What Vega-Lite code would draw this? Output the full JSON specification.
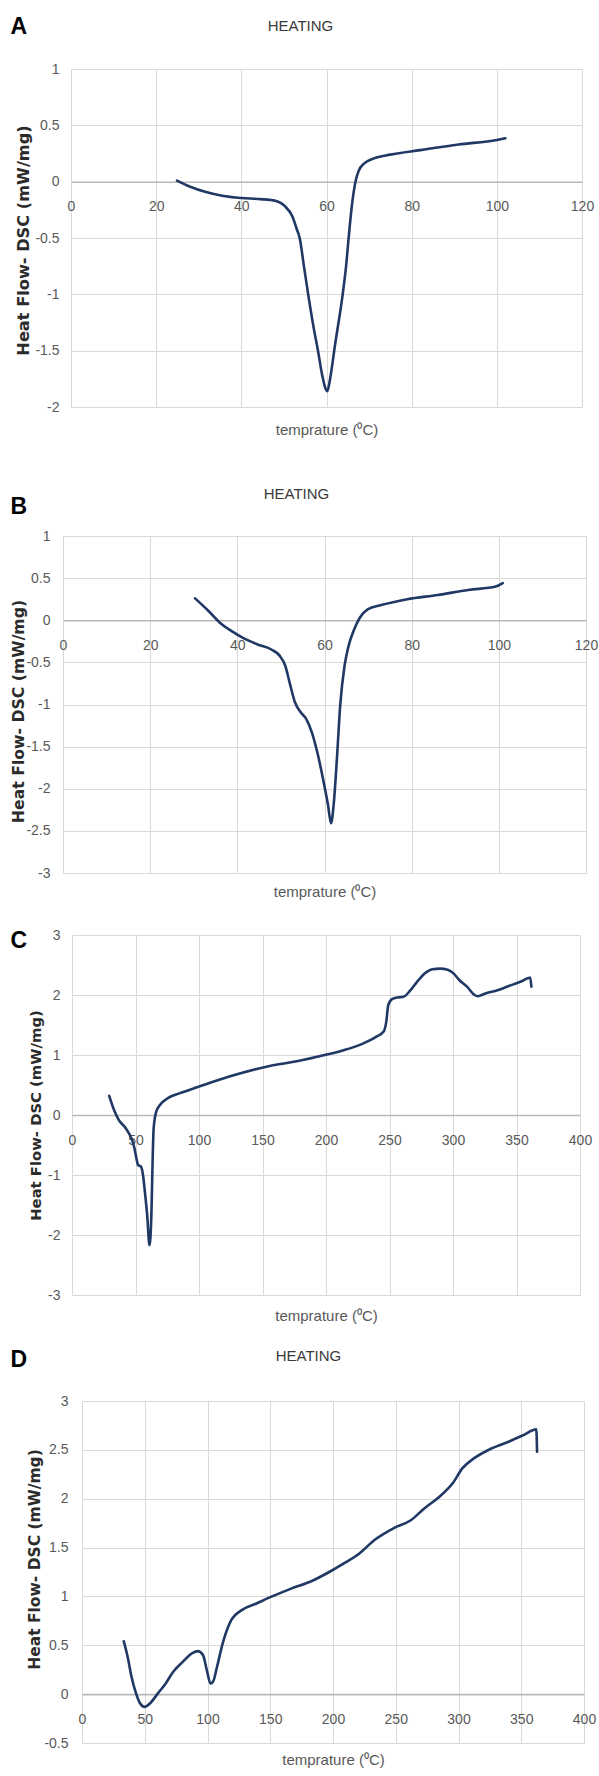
{
  "$schema": "https://vega.github.io/schema/vega-lite/v6.json",
  "padding": {"left": 0, "top": 15, "right": 0, "bottom": 0},
  "background": "white",
  "config": {
    "view": {"stroke": null},
    "axis": {
      "labelFont": "Liberation Sans",
      "labelFontSize": 14,
      "labelColor": "#595959",
      "ticks": false,
      "tickSize": 0,
      "domain": false,
      "gridColor": "#d9d9d9",
      "gridWidth": 1,
      "labelFlush": false,
      "labelOverlap": false,
      "titleFont": "Liberation Sans",
      "titleFontSize": 15,
      "titleColor": "#595959",
      "titleFontWeight": "normal"
    },
    "axisX": {"labelPadding": 18},
    "axisY": {"labelPadding": 12}
  },
  "datasets": {
    "a": [
      {"t": 24.9, "hf": 0.01}, {"t": 28, "hf": -0.045}, {"t": 31.5, "hf": -0.09}, {"t": 35.5, "hf": -0.125},
      {"t": 40, "hf": -0.145}, {"t": 44.5, "hf": -0.155}, {"t": 48, "hf": -0.17}, {"t": 50.3, "hf": -0.22},
      {"t": 52, "hf": -0.31}, {"t": 53, "hf": -0.42}, {"t": 53.7, "hf": -0.5}, {"t": 54.7, "hf": -0.75},
      {"t": 55.7, "hf": -1.0}, {"t": 57, "hf": -1.3}, {"t": 58, "hf": -1.5}, {"t": 59, "hf": -1.72},
      {"t": 59.8, "hf": -1.84}, {"t": 60.2, "hf": -1.86}, {"t": 60.8, "hf": -1.76}, {"t": 62, "hf": -1.45},
      {"t": 63.8, "hf": -1.0}, {"t": 64.6, "hf": -0.75}, {"t": 65.2, "hf": -0.5}, {"t": 66, "hf": -0.2},
      {"t": 66.8, "hf": 0.0}, {"t": 67.6, "hf": 0.1}, {"t": 68.8, "hf": 0.16}, {"t": 71, "hf": 0.205},
      {"t": 75, "hf": 0.24}, {"t": 82, "hf": 0.28}, {"t": 91, "hf": 0.33}, {"t": 100, "hf": 0.37},
      {"t": 102, "hf": 0.385}
    ],
    "b": [
      {"t": 30.3, "hf": 0.26}, {"t": 33.4, "hf": 0.11}, {"t": 36, "hf": -0.03}, {"t": 38.7, "hf": -0.13},
      {"t": 41.3, "hf": -0.21}, {"t": 44.8, "hf": -0.29}, {"t": 47.9, "hf": -0.35}, {"t": 49.7, "hf": -0.42},
      {"t": 51, "hf": -0.54}, {"t": 52, "hf": -0.74}, {"t": 53.2, "hf": -0.97}, {"t": 54.5, "hf": -1.09},
      {"t": 55.8, "hf": -1.17}, {"t": 57.1, "hf": -1.33}, {"t": 58.5, "hf": -1.6}, {"t": 59.8, "hf": -1.92},
      {"t": 60.8, "hf": -2.19}, {"t": 61.5, "hf": -2.41}, {"t": 62.1, "hf": -2.19}, {"t": 62.9, "hf": -1.6},
      {"t": 63.6, "hf": -1.01}, {"t": 64.6, "hf": -0.54}, {"t": 65.5, "hf": -0.31}, {"t": 66.8, "hf": -0.11},
      {"t": 68.1, "hf": 0.03}, {"t": 69.9, "hf": 0.13}, {"t": 73, "hf": 0.18}, {"t": 79, "hf": 0.25},
      {"t": 86, "hf": 0.3}, {"t": 93, "hf": 0.36}, {"t": 99.3, "hf": 0.4}, {"t": 100.9, "hf": 0.44}
    ],
    "c": [
      {"t": 29.3, "hf": 0.32}, {"t": 33.2, "hf": 0.08}, {"t": 36.8, "hf": -0.08}, {"t": 42.3, "hf": -0.22},
      {"t": 46.8, "hf": -0.39}, {"t": 48.9, "hf": -0.53}, {"t": 50.7, "hf": -0.72}, {"t": 51.9, "hf": -0.83},
      {"t": 54.3, "hf": -0.86}, {"t": 55.9, "hf": -1.0}, {"t": 57.4, "hf": -1.28}, {"t": 59.2, "hf": -1.67},
      {"t": 61, "hf": -2.17}, {"t": 62.5, "hf": -1.67}, {"t": 63.4, "hf": -0.83}, {"t": 64.3, "hf": -0.22},
      {"t": 66.4, "hf": 0.06}, {"t": 69.4, "hf": 0.17}, {"t": 75.5, "hf": 0.28}, {"t": 84.5, "hf": 0.36},
      {"t": 99.6, "hf": 0.47}, {"t": 123.8, "hf": 0.64}, {"t": 154, "hf": 0.81}, {"t": 178, "hf": 0.9},
      {"t": 199, "hf": 1.0}, {"t": 214, "hf": 1.08}, {"t": 229, "hf": 1.19}, {"t": 240, "hf": 1.31},
      {"t": 245.4, "hf": 1.39}, {"t": 247.5, "hf": 1.56}, {"t": 249, "hf": 1.83}, {"t": 252, "hf": 1.93},
      {"t": 256.6, "hf": 1.96}, {"t": 261, "hf": 1.97}, {"t": 265.7, "hf": 2.06}, {"t": 271.7, "hf": 2.22},
      {"t": 277.7, "hf": 2.36}, {"t": 283.8, "hf": 2.43}, {"t": 289.8, "hf": 2.44}, {"t": 295.8, "hf": 2.42},
      {"t": 300.4, "hf": 2.36}, {"t": 304.9, "hf": 2.25}, {"t": 311, "hf": 2.14}, {"t": 317, "hf": 2.0},
      {"t": 319.4, "hf": 1.98}, {"t": 326, "hf": 2.03}, {"t": 335, "hf": 2.08}, {"t": 344, "hf": 2.15},
      {"t": 353, "hf": 2.22}, {"t": 360.8, "hf": 2.29}, {"t": 361.7, "hf": 2.14}
    ],
    "d": [
      {"t": 33.3, "hf": 0.54}, {"t": 36.4, "hf": 0.38}, {"t": 39.4, "hf": 0.18}, {"t": 43, "hf": 0.01},
      {"t": 46.1, "hf": -0.09}, {"t": 50, "hf": -0.13}, {"t": 54.5, "hf": -0.09}, {"t": 60.6, "hf": 0.01},
      {"t": 66.7, "hf": 0.11}, {"t": 72.7, "hf": 0.23}, {"t": 80.3, "hf": 0.33}, {"t": 87.9, "hf": 0.42},
      {"t": 92.4, "hf": 0.44}, {"t": 96.4, "hf": 0.4}, {"t": 99.4, "hf": 0.25}, {"t": 102.4, "hf": 0.11},
      {"t": 104.5, "hf": 0.13}, {"t": 107.6, "hf": 0.28}, {"t": 112.1, "hf": 0.52}, {"t": 118.2, "hf": 0.74},
      {"t": 127.3, "hf": 0.86}, {"t": 139.4, "hf": 0.93}, {"t": 151.5, "hf": 1.0}, {"t": 166.7, "hf": 1.08},
      {"t": 181.8, "hf": 1.15}, {"t": 197, "hf": 1.25}, {"t": 209, "hf": 1.34}, {"t": 221, "hf": 1.44},
      {"t": 233.3, "hf": 1.58}, {"t": 248.5, "hf": 1.7}, {"t": 262, "hf": 1.78}, {"t": 272.7, "hf": 1.9},
      {"t": 284.8, "hf": 2.02}, {"t": 295.5, "hf": 2.16}, {"t": 303, "hf": 2.31}, {"t": 312, "hf": 2.41},
      {"t": 324, "hf": 2.5}, {"t": 339.4, "hf": 2.58}, {"t": 351.5, "hf": 2.65}, {"t": 362, "hf": 2.71},
      {"t": 362.6, "hf": 2.48}
    ]
  },
  "columns": 1,
  "spacing": 28,
  "concat": [
    {
      "columns": 1,
      "spacing": 48,
      "concat": [
        {"spacing": 0, "hconcat": [
        {"width": 10, "height": 1, "data": {"name": "a"}, "mark": {"type": "text", "text": ""}, "encoding": {}},
        {
          "width": 511, "height": 338,
          "data": {"name": "a"},
          "layer": [
            {
              "mark": {"type": "line", "color": "#203864", "strokeWidth": 2.6, "interpolate": "monotone", "strokeCap": "round", "strokeJoin": "round"},
              "encoding": {
                "x": {"field": "t", "type": "quantitative", "scale": {"domain": [0, 120], "nice": false, "zero": false},
                  "axis": {"values": [0, 20, 40, 60, 80, 100, 120], "offset": -225.3, "domain": true, "domainColor": "#b8b8b8", "domainWidth": 1.6,
                    "title": "temprature (⁰C)", "titleY": 248, "titleBaseline": "middle"}},
                "y": {"field": "hf", "type": "quantitative", "scale": {"domain": [-2, 1], "nice": false, "zero": false},
                  "axis": {"values": [-2, -1.5, -1, -0.5, 0, 0.5, 1], "labelExpr": "datum.value + ''",
                    "title": "Heat Flow- DSC (mW/mg)", "titleFont": "DejaVu Sans", "titleFontWeight": "bold", "titleColor": "#2b2b2b", "titleFontSize": 16.2,
                    "titleX": -47.5, "titleY": 171, "titleBaseline": "middle"}}
              }
            },
            {
              "mark": {"type": "line", "strokeOpacity": 0},
              "encoding": {
                "x": {"field": "t", "type": "quantitative",
                  "axis": {"orient": "top", "title": "HEATING", "labels": false, "grid": false, "domain": false, "ticks": false,
                    "titleX": 229, "titleY": -44, "titleBaseline": "middle", "titleAlign": "center", "titleColor": "#3a3a3a"}},
                "y": {"field": "hf", "type": "quantitative",
                  "axis": {"orient": "right", "title": "A", "labels": false, "grid": false, "domain": false, "ticks": false,
                    "titleAngle": 0, "titleX": -572, "titleY": -42.5, "titleAlign": "left", "titleBaseline": "middle",
                    "titleFont": "Liberation Sans", "titleFontSize": 23, "titleFontWeight": "bold", "titleColor": "#000000"}}
              }
            }
          ],
          "resolve": {"axis": {"x": "independent", "y": "independent"}}
        }]},
        {"spacing": 0, "hconcat": [
        {"width": 10, "height": 1, "data": {"name": "b"}, "mark": {"type": "text", "text": ""}, "encoding": {}},
        {
          "width": 523, "height": 337,
          "data": {"name": "b"},
          "layer": [
            {
              "mark": {"type": "line", "color": "#203864", "strokeWidth": 2.6, "interpolate": "monotone", "strokeCap": "round", "strokeJoin": "round"},
              "encoding": {
                "x": {"field": "t", "type": "quantitative", "scale": {"domain": [0, 120], "nice": false, "zero": false},
                  "axis": {"values": [0, 20, 40, 60, 80, 100, 120], "offset": -252.75, "domain": true, "domainColor": "#b8b8b8", "domainWidth": 1.6,
                    "title": "temprature (⁰C)", "titleY": 271, "titleBaseline": "middle"}},
                "y": {"field": "hf", "type": "quantitative", "scale": {"domain": [-3, 1], "nice": false, "zero": false},
                  "axis": {"values": [-3, -2.5, -2, -1.5, -1, -0.5, 0, 0.5, 1], "labelExpr": "datum.value + ''", "labelPadding": 13,
                    "title": "Heat Flow- DSC (mW/mg)", "titleFont": "DejaVu Sans", "titleFontWeight": "bold", "titleColor": "#2b2b2b", "titleFontSize": 15.7,
                    "titleX": -45, "titleY": 175, "titleBaseline": "middle"}}
              }
            },
            {
              "mark": {"type": "line", "strokeOpacity": 0},
              "encoding": {
                "x": {"field": "t", "type": "quantitative",
                  "axis": {"orient": "top", "title": "HEATING", "labels": false, "grid": false, "domain": false, "ticks": false,
                    "titleX": 233, "titleY": -43, "titleBaseline": "middle", "titleAlign": "center", "titleColor": "#3a3a3a"}},
                "y": {"field": "hf", "type": "quantitative",
                  "axis": {"orient": "right", "title": "B", "labels": false, "grid": false, "domain": false, "ticks": false,
                    "titleAngle": 0, "titleX": -576, "titleY": -30, "titleAlign": "left", "titleBaseline": "middle",
                    "titleFont": "Liberation Sans", "titleFontSize": 23, "titleFontWeight": "bold", "titleColor": "#000000"}}
              }
            }
          ],
          "resolve": {"axis": {"x": "independent", "y": "independent"}}
        }]}
      ]
    },
    {
      "columns": 1,
      "spacing": 25,
      "concat": [
        {"spacing": 0, "hconcat": [
        {"width": 10, "height": 1, "data": {"name": "c"}, "mark": {"type": "text", "text": ""}, "encoding": {}},
        {
          "width": 508, "height": 360,
          "data": {"name": "c"},
          "layer": [
            {
              "mark": {"type": "line", "color": "#203864", "strokeWidth": 2.6, "interpolate": "monotone", "strokeCap": "round", "strokeJoin": "round"},
              "encoding": {
                "x": {"field": "t", "type": "quantitative", "scale": {"domain": [0, 400], "nice": false, "zero": false},
                  "axis": {"values": [0, 50, 100, 150, 200, 250, 300, 350, 400], "offset": -180, "domain": true, "domainColor": "#b8b8b8", "domainWidth": 1.6,
                    "title": "temprature (⁰C)", "titleY": 200, "titleBaseline": "middle"}},
                "y": {"field": "hf", "type": "quantitative", "scale": {"domain": [-3, 3], "nice": false, "zero": false},
                  "axis": {"values": [-3, -2, -1, 0, 1, 2, 3], "labelExpr": "datum.value + ''",
                    "title": "Heat Flow- DSC (mW/mg)", "titleFont": "DejaVu Sans", "titleFontWeight": "bold", "titleColor": "#2b2b2b", "titleFontSize": 14.8,
                    "titleX": -36, "titleY": 180, "titleBaseline": "middle"}}
              }
            },
            {
              "mark": {"type": "line", "strokeOpacity": 0},
              "encoding": {
                "x": {"field": "t", "type": "quantitative", "axis": null},
                "y": {"field": "hf", "type": "quantitative",
                  "axis": {"orient": "right", "title": "C", "labels": false, "grid": false, "domain": false, "ticks": false,
                    "titleAngle": 0, "titleX": -570, "titleY": 5, "titleAlign": "left", "titleBaseline": "middle",
                    "titleFont": "Liberation Sans", "titleFontSize": 23, "titleFontWeight": "bold", "titleColor": "#000000"}}
              }
            }
          ],
          "resolve": {"axis": {"x": "independent", "y": "independent"}}
        }]},
        {"spacing": 0, "hconcat": [
        {"width": 10, "height": 1, "data": {"name": "d"}, "mark": {"type": "text", "text": ""}, "encoding": {}},
        {
          "width": 502, "height": 342,
          "data": {"name": "d"},
          "layer": [
            {
              "mark": {"type": "line", "color": "#203864", "strokeWidth": 2.6, "interpolate": "monotone", "strokeCap": "round", "strokeJoin": "round"},
              "encoding": {
                "x": {"field": "t", "type": "quantitative", "scale": {"domain": [0, 400], "nice": false, "zero": false},
                  "axis": {"values": [0, 50, 100, 150, 200, 250, 300, 350, 400], "offset": -48.86, "domain": true, "domainColor": "#b8b8b8", "domainWidth": 1.6,
                    "title": "temprature (⁰C)", "titleY": 65, "titleBaseline": "middle"}},
                "y": {"field": "hf", "type": "quantitative", "scale": {"domain": [-0.5, 3], "nice": false, "zero": false},
                  "axis": {"values": [-0.5, 0, 0.5, 1, 1.5, 2, 2.5, 3], "labelExpr": "datum.value + ''", "labelPadding": 14,
                    "title": "Heat Flow- DSC (mW/mg)", "titleFont": "DejaVu Sans", "titleFontWeight": "bold", "titleColor": "#2b2b2b", "titleFontSize": 15.5,
                    "titleX": -48, "titleY": 158, "titleBaseline": "middle"}}
              }
            },
            {
              "mark": {"type": "line", "strokeOpacity": 0},
              "encoding": {
                "x": {"field": "t", "type": "quantitative",
                  "axis": {"orient": "top", "title": "HEATING", "labels": false, "grid": false, "domain": false, "ticks": false,
                    "titleX": 226, "titleY": -46, "titleBaseline": "middle", "titleAlign": "center", "titleColor": "#3a3a3a"}},
                "y": {"field": "hf", "type": "quantitative",
                  "axis": {"orient": "right", "title": "D", "labels": false, "grid": false, "domain": false, "ticks": false,
                    "titleAngle": 0, "titleX": -574, "titleY": -42, "titleAlign": "left", "titleBaseline": "middle",
                    "titleFont": "Liberation Sans", "titleFontSize": 23, "titleFontWeight": "bold", "titleColor": "#000000"}}
              }
            }
          ],
          "resolve": {"axis": {"x": "independent", "y": "independent"}}
        }]}
      ]
    }
  ]
}
